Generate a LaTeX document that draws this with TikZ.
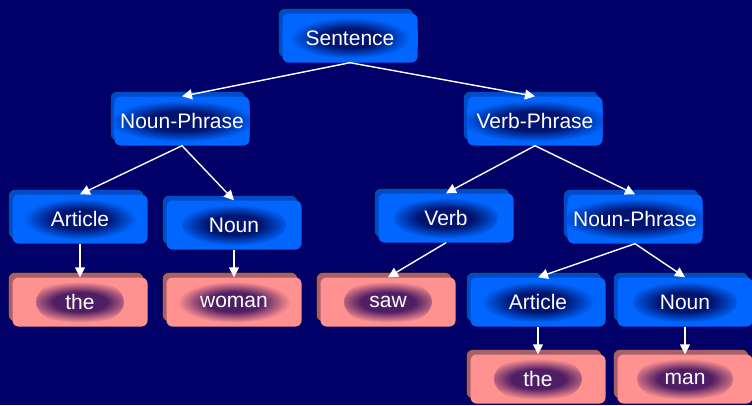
\documentclass[tikz,border=0pt]{standalone}
\usepackage{fontspec}
\setmainfont{Liberation Sans}
\usetikzlibrary{arrows.meta,shadows}

\definecolor{navybg}{RGB}{0,0,104}
\definecolor{boxblue}{RGB}{0,102,255}
\definecolor{shadeblue}{RGB}{0,76,200}
\definecolor{glowblue}{RGB}{0,20,112}
\definecolor{boxpink}{RGB}{255,145,145}
\definecolor{shadepink}{RGB}{168,96,104}
\definecolor{glowpink}{RGB}{80,30,100}
\colorlet{glowblueA}{glowblue!55!boxblue}
\colorlet{glowpinkA}{glowpink!55!boxpink}

\pgfdeclareradialshading{blueglow}{\pgfpointorigin}{color(0bp)=(glowblue);
  color(10bp)=(glowblue); color(15bp)=(glowblueA); color(21bp)=(boxblue); color(50bp)=(boxblue)}
\pgfdeclareradialshading{pinkglow}{\pgfpointorigin}{color(0bp)=(glowpink);
  color(10bp)=(glowpink); color(15bp)=(glowpinkA); color(21bp)=(boxpink); color(50bp)=(boxpink)}

\begin{document}
\begin{tikzpicture}[x=1pt, y=-1pt,
  tag/.style={rounded corners=6pt, minimum width=135pt, minimum height=49pt, inner sep=0pt,
    font=\fontsize{21}{24}\selectfont, text=white},
  phrase/.style={tag, fill=boxblue,
    copy shadow={shadow xshift=-4pt, shadow yshift=5pt, fill=shadeblue},
    path picture={\shade[shading=blueglow]
      (path picture bounding box.center) ellipse (#1 and 22pt);}},
  phrase/.default=70pt,
  word/.style={tag, fill=boxpink,
    copy shadow={shadow xshift=-4pt, shadow yshift=5pt, fill=shadepink},
    path picture={\shade[shading=pinkglow]
      (path picture bounding box.center) ellipse (#1 and 24pt);}},
  word/.default=50pt,
  link/.style={draw=white, line width=1.4pt, -{Triangle[length=10pt,width=10pt]}}]
  \useasboundingbox (0,0) rectangle (752,405);
  \clip (0,0) rectangle (752,405);
  \fill[navybg] (0,0) rectangle (752,405);
  % Top of the tree
  \node[phrase=72pt] (sent) at (350,38) {Sentence};
  \node[phrase=88pt] (np1)  at (182,121) {Noun-Phrase};
  \node[phrase=88pt] (vp)   at (535,121) {Verb-Phrase};
  % Left subject branch
  \node[phrase=62pt] (art1)  at (80,219)  {Article};
  \node[phrase=52pt] (noun1) at (234,225) {Noun};
  \node[word=44pt]   (the1)  at (80,302)  {the};
  \node[word=64pt]   (woman) at (234,302) {woman};
  % Right predicate branch
  \node[phrase=52pt] (verb)  at (446,218) {Verb};
  \node[phrase=88pt] (np2)   at (635,219) {Noun-Phrase};
  \node[word=44pt]   (saw)   at (388,302) {saw};
  \node[phrase=62pt] (art2)  at (538,302) {Article};
  \node[phrase=52pt] (noun2) at (685,302) {Noun};
  \node[word=44pt]   (the2)  at (538,379) {the};
  \node[word=48pt]   (man)   at (685,379) {man};
  % Connectors
  \draw[link] (sent.south) -- (np1.north);
  \draw[link] (sent.south) -- (vp.north);
  \draw[link] (np1.south) -- (art1.north);
  \draw[link] (np1.south) -- (noun1.north);
  \draw[link] (art1.south) -- (the1.north);
  \draw[link] (noun1.south) -- (woman.north);
  \draw[link] (vp.south) -- (verb.north);
  \draw[link] (vp.south) -- (np2.north);
  \draw[link] (verb.south) -- (saw.north);
  \draw[link] (np2.south) -- (art2.north);
  \draw[link] (np2.south) -- (noun2.north);
  \draw[link] (art2.south) -- (the2.north);
  \draw[link] (noun2.south) -- (man.north);
\end{tikzpicture}
\end{document}
